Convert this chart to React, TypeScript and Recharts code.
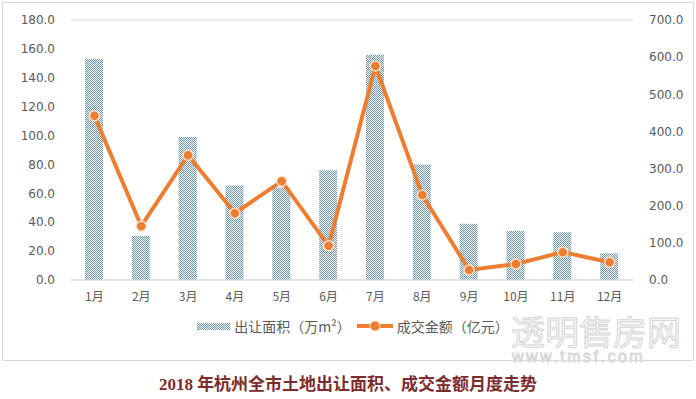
import { ComposedChart, Bar, Line, XAxis, YAxis, CartesianGrid, Legend } from 'recharts';

const months = ['1月', '2月', '3月', '4月', '5月', '6月', '7月', '8月', '9月', '10月', '11月', '12月'];
const area = [153, 30.5, 99, 65.5, 64, 76, 156, 80, 39, 34, 33, 18.5];
const amount = [442, 145, 336, 180, 266, 92, 576, 229, 27, 43, 75, 48];
const leftTicks = [0, 20, 40, 60, 80, 100, 120, 140, 160, 180];
const rightTicks = [0, 100, 200, 300, 400, 500, 600, 700];

const data = months.map((m, i) => ({ month: m, area: area[i], amount: amount[i] }));

const tickStyle = { fill: '#595959', fontSize: 12, fontFamily: 'Verdana, "DejaVu Sans", sans-serif' };
const cjk = '"Noto Sans CJK SC", sans-serif';

const renderLegend = () => (
  <div style={{ display: 'flex', justifyContent: 'center', alignItems: 'center', fontFamily: cjk, fontSize: 14, color: '#595959', paddingLeft: 10, marginTop: 10 }}>
    <svg width={33} height={7} style={{ marginRight: 4 }}>
      <rect width={33} height={7} fill="url(#dots)" />
    </svg>
    <span style={{ marginRight: 6 }}>出让面积（万m²）</span>
    <svg width={36} height={12} style={{ marginRight: 4 }}>
      <line x1={0} y1={6} x2={36} y2={6} stroke="#ED7D31" strokeWidth={4} />
      <circle cx={18} cy={6} r={5} fill="#ED7D31" stroke="#fbe0cc" strokeWidth={1} />
    </svg>
    <span>成交金额（亿元）</span>
  </div>
);

const App = () => {
  return (
    <div style={{ position: 'absolute', left: 0, top: 0, width: 696, height: 399, background: '#fff', overflow: 'hidden' }}>
      <div style={{ position: 'absolute', left: 2, top: 2, width: 690, height: 357, border: '1px solid #d9d9d9' }} />
      <div style={{ position: 'absolute', left: 0, top: 0 }}>
        <ComposedChart width={696} height={340} data={data} margin={{ top: 20, right: 0, left: 0, bottom: 0 }}>
          <defs>
            <pattern id="dots" width={2} height={2} patternUnits="userSpaceOnUse">
              <rect width={2} height={2} fill="#ffffff" />
              <rect x={0} y={0} width={1} height={1} fill="#6a93ad" />
              <rect x={1} y={1} width={1} height={1} fill="#6a93ad" />
            </pattern>
          </defs>
          <CartesianGrid vertical={false} stroke="#d9d9d9" />
          <XAxis dataKey="month" height={26} tickLine={false} axisLine={{ stroke: '#d9d9d9' }} tick={{ ...tickStyle, fontFamily: cjk }} tickMargin={6} />
          <YAxis yAxisId="left" width={71} domain={[0, 180]} ticks={leftTicks} tickFormatter={(v: number) => v.toFixed(1)} axisLine={false} tickLine={false} tick={tickStyle} tickMargin={10} />
          <YAxis yAxisId="right" orientation="right" width={63} domain={[0, 700]} ticks={rightTicks} tickFormatter={(v: number) => v.toFixed(1)} axisLine={false} tickLine={false} tick={{ ...tickStyle, textAnchor: 'start' }} tickMargin={10} />
          <Legend verticalAlign="bottom" height={34} content={renderLegend} />
          <Bar yAxisId="left" dataKey="area" name="出让面积（万m²）" fill="url(#dots)" barSize={18} isAnimationActive={false} />
          <Line yAxisId="right" dataKey="amount" name="成交金额（亿元）" stroke="#ED7D31" strokeWidth={4} dot={{ r: 5, fill: '#ED7D31', stroke: '#fbe0cc', strokeWidth: 1.5 }} isAnimationActive={false} />
        </ComposedChart>
      </div>
      <div style={{ position: 'absolute', left: 511, top: 314, whiteSpace: 'nowrap', fontFamily: cjk, fontSize: 34, lineHeight: '34px', color: '#f6f6f6', WebkitTextStroke: '1px #d6d6d6' }}>
        透明售房网
      </div>
      <div style={{ position: 'absolute', left: 512, top: 349, whiteSpace: 'nowrap', fontFamily: 'Arial, "Liberation Sans", sans-serif', fontSize: 16, lineHeight: '16px', color: '#f6f6f6', WebkitTextStroke: '1px #d6d6d6', letterSpacing: 2.5 }}>
        www.tmsf.com
      </div>
      <div style={{ position: 'absolute', left: 0, top: 370, width: 696, textAlign: 'center', whiteSpace: 'nowrap', fontFamily: '"Liberation Serif", "Noto Sans CJK SC", serif', fontWeight: 'bold', fontSize: 17, color: '#7b2c2c' }}>
        2018 年杭州全市土地出让面积、成交金额月度走势
      </div>
    </div>
  );
};

export default App;
